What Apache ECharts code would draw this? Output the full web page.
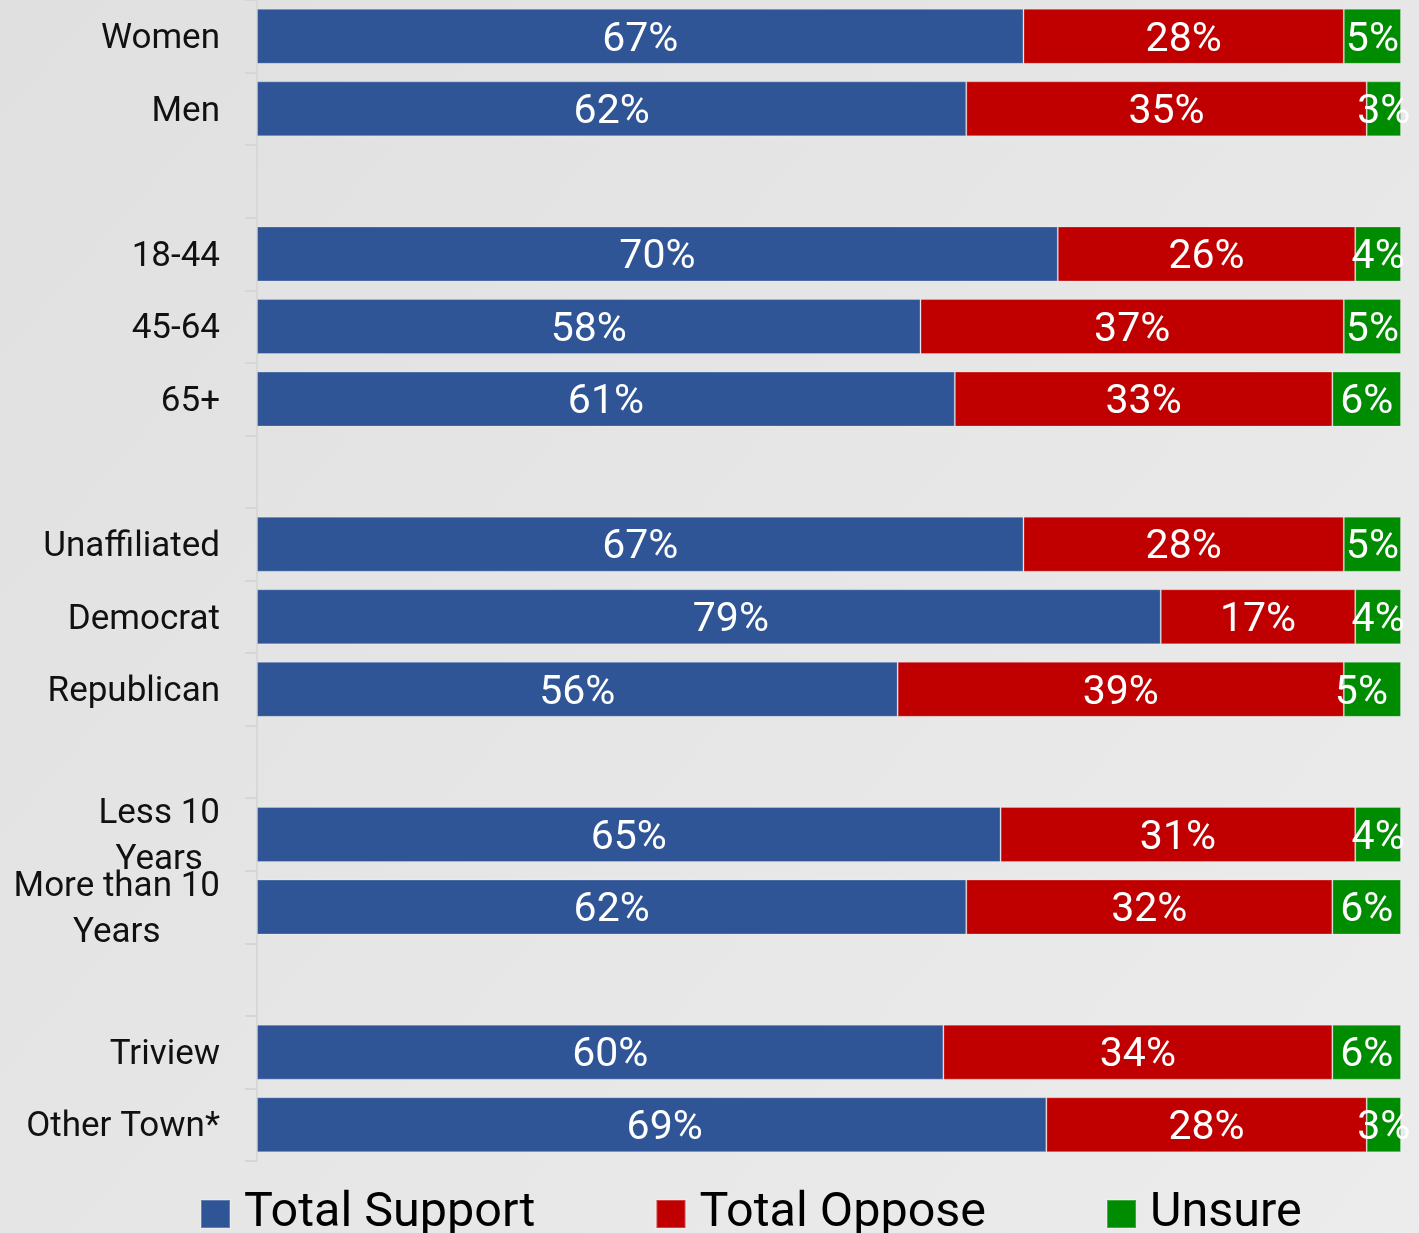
<!DOCTYPE html>
<html>
<head>
<meta charset="utf-8">
<script src="https://cdn.jsdelivr.net/npm/echarts@6/dist/echarts.min.js"></script>
<style>
html,body{margin:0;padding:0;width:1419px;height:1233px;overflow:hidden;}
#chart{width:1419px;height:1233px;}
</style>
</head>
<body>
<div id="chart"></div>
<script>
const categories = ['Women','Men','','18-44','45-64','65+','','Unaffiliated','Democrat','Republican','','Less 10\nYears','More than 10\nYears','','Triview','Other Town*'];
const support = [67,62,null,70,58,61,null,67,79,56,null,65,62,null,60,69];
const oppose  = [28,35,null,26,37,33,null,28,17,39,null,31,32,null,34,28];
const unsure  = [5,3,null,4,5,6,null,5,4,5,null,4,6,null,6,3];
const seriesNames = ['Total Support','Total Oppose','Unsure'];
const colors = ['#2f5597','#c00000','#008c00'];

// a few labels in the reference sit off their segment centre
const labelNudge = {'0|Democrat': 22, '0|Triview': 10, '0|Other Town*': 13, '2|Republican': -11};

const chart = echarts.init(document.getElementById('chart'));

function mkSeries(name, data, color, idx){
  return {
    name: name,
    type: 'bar',
    stack: 'total',
    barWidth: 55,
    data: data.map(function(v, i){
      if (v === null) return '-';
      const dx = labelNudge[idx + '|' + categories[i]];
      if (dx) return {value: v, label: {offset: [dx, 4]}};
      return v;
    }),
    itemStyle: {color: color, borderColor: 'rgba(255,255,255,0.25)', borderWidth: 1},
    label: {
      show: true,
      position: 'inside',
      formatter: '{c}%',
      color: '#fff',
      fontSize: 41,
      fontFamily: 'Roboto',
      offset: [0, 4]
    },
    emphasis: {disabled: true}
  };
}

chart.setOption({
  animation: false,
  backgroundColor: {
    type: 'linear', x: 0, y: 0, x2: 1, y2: 1,
    colorStops: [{offset: 0, color: '#e0e0e0'}, {offset: 1, color: '#ececec'}]
  },
  color: colors,
  grid: {left: 257, right: 18, top: 0, bottom: 72, containLabel: false},
  legend: {
    left: 200,
    top: 1183,
    padding: 0,
    itemWidth: 29,
    itemHeight: 28,
    itemGap: 120,
    icon: 'rect',
    data: seriesNames,
    textStyle: {fontSize: 48.5, color: '#000', fontFamily: 'Roboto', lineHeight: 56, padding: [6, 0, 0, 9]}
  },
  xAxis: {type: 'value', min: 0, max: 100, show: false},
  yAxis: {
    type: 'category',
    inverse: true,
    data: categories,
    axisLine: {show: true, lineStyle: {color: '#d8d8d8', width: 2}},
    axisTick: {show: true, length: 12, lineStyle: {color: '#d6d6d6', width: 2}},
    axisLabel: {
      margin: 37,
      fontSize: 35,
      color: '#111',
      fontFamily: 'Roboto',
      lineHeight: 46,
      padding: [6, 0, 0, 0],
      formatter: function(v){
        if (v.indexOf('\n') >= 0) {
          return v.split('\n').map(function(s){ return '{c|' + s + '}'; }).join('\n');
        }
        return v;
      },
      rich: {c: {align: 'center', fontSize: 35, color: '#111', fontFamily: 'Roboto', lineHeight: 46}}
    }
  },
  series: [
    mkSeries(seriesNames[0], support, colors[0], 0),
    mkSeries(seriesNames[1], oppose, colors[1], 1),
    mkSeries(seriesNames[2], unsure, colors[2], 2)
  ]
});
</script>
</body>
</html>
